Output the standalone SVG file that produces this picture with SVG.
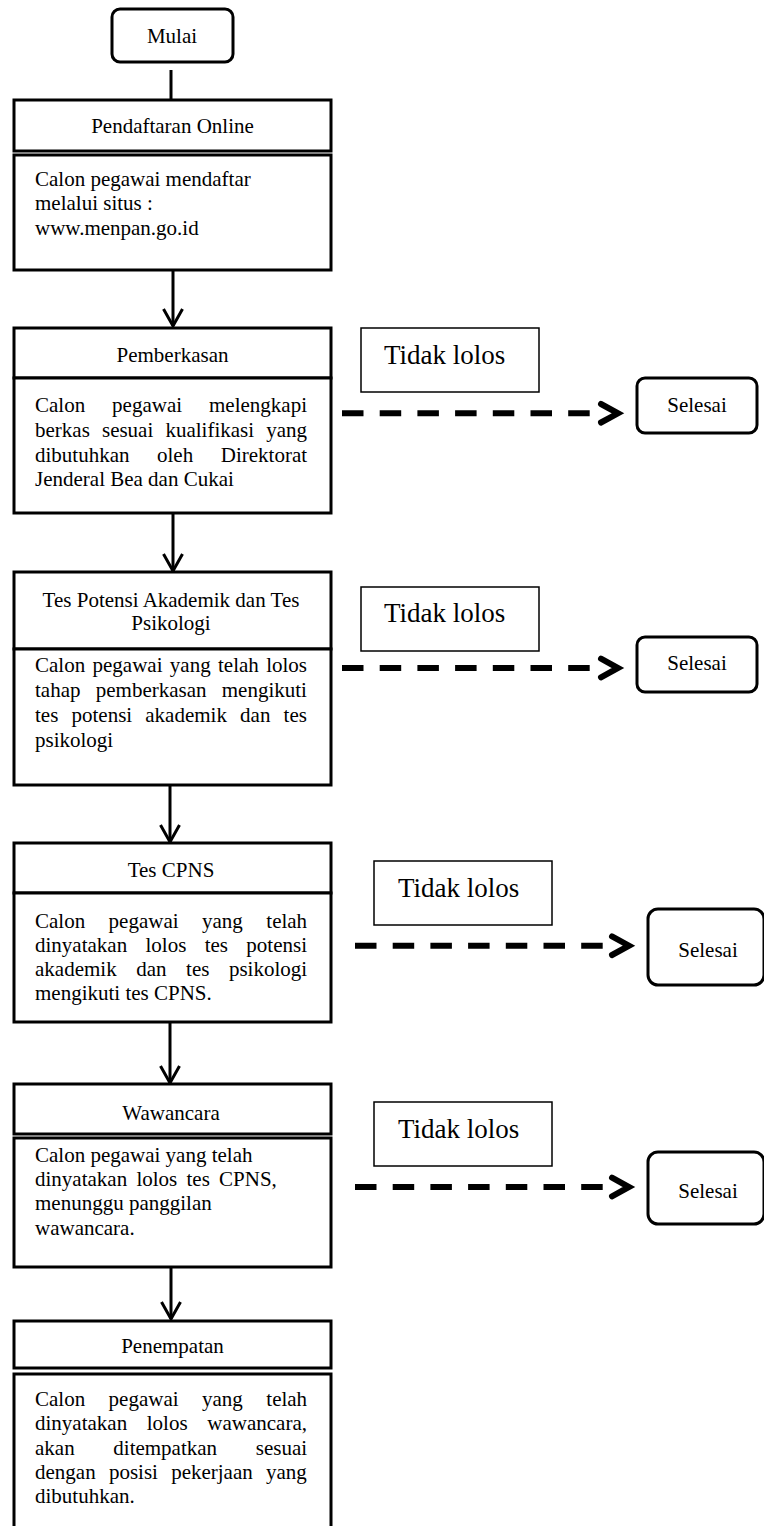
<svg xmlns="http://www.w3.org/2000/svg" width="764" height="1526" viewBox="0 0 764 1526">
<style>
.box{fill:#fff;stroke:#000;stroke-width:3}
.term{fill:#fff;stroke:#000;stroke-width:3}
.tl{fill:#fff;stroke:#000;stroke-width:1.5}
.t{font-family:"Liberation Serif","Times New Roman",serif;font-size:21px;fill:#000}
.c{text-anchor:middle}
.big{font-family:"Liberation Serif","Times New Roman",serif;font-size:27px;fill:#000}
.ln{stroke:#000;stroke-width:3;fill:none}
.hd{stroke:#000;stroke-width:3;fill:none;stroke-linejoin:miter}
.dash{stroke:#000;stroke-width:6;stroke-dasharray:21.5 16.2;fill:none}
.chev{stroke:#000;stroke-width:6;fill:none;stroke-linecap:round;stroke-linejoin:miter}
</style>
<rect width="764" height="1526" fill="#fff"/>

<g id="connectors">
  <line class="ln" x1="171" y1="70" x2="171" y2="100"/>
  <line class="ln" x1="173" y1="270" x2="173" y2="326"/>
  <polyline class="hd" points="163.5,309 173,326 182.5,309"/>
  <line class="ln" x1="173" y1="513" x2="173" y2="571"/>
  <polyline class="hd" points="163.5,554 173,571 182.5,554"/>
  <line class="ln" x1="170" y1="785" x2="170" y2="842"/>
  <polyline class="hd" points="160.5,825 170,842 179.5,825"/>
  <line class="ln" x1="170" y1="1022" x2="170" y2="1083"/>
  <polyline class="hd" points="160.5,1066 170,1083 179.5,1066"/>
  <line class="ln" x1="171" y1="1267" x2="171" y2="1319"/>
  <polyline class="hd" points="161.5,1302 171,1319 180.5,1302"/>

  <line class="dash" x1="342" y1="413.3" x2="590" y2="413.3"/>
  <polyline class="chev" points="601,404 618,413.3 601,422.5"/>
  <line class="dash" x1="342" y1="668" x2="590" y2="668"/>
  <polyline class="chev" points="601,658.7 618,668 601,677.3"/>
  <line class="dash" x1="355" y1="945.7" x2="603" y2="945.7"/>
  <polyline class="chev" points="612,936.4 629,945.7 612,955"/>
  <line class="dash" x1="355" y1="1187" x2="603" y2="1187"/>
  <polyline class="chev" points="612,1177.7 629,1187 612,1196.3"/>
</g>

<g id="mulai">
  <rect class="term" x="112" y="9" width="121" height="53" rx="8"/>
  <text class="t c" x="172" y="43">Mulai</text>
</g>

<g id="pendaftaran">
  <rect class="box" x="14" y="100" width="317" height="51"/>
  <rect class="box" x="14" y="155" width="317" height="115"/>
  <text class="t c" x="172.5" y="133">Pendaftaran Online</text>
  <text class="t" x="35" y="186">Calon pegawai mendaftar</text>
  <text class="t" x="35" y="210">melalui situs :</text>
  <text class="t" x="35" y="235">www.menpan.go.id</text>
</g>

<g id="pemberkasan">
  <rect class="box" x="14" y="328" width="317" height="50"/>
  <rect class="box" x="14" y="378" width="317" height="135"/>
  <text class="t c" x="172.5" y="362">Pemberkasan</text>
  <text class="t" x="35" y="412" word-spacing="21.7">Calon pegawai melengkapi</text>
  <text class="t" x="35" y="437" word-spacing="6.9">berkas sesuai kualifikasi yang</text>
  <text class="t" x="35" y="462" word-spacing="22.3">dibutuhkan oleh Direktorat</text>
  <text class="t" x="35" y="486">Jenderal Bea dan Cukai</text>
</g>

<g id="tidak-lolos-1">
  <rect class="tl" x="361" y="328" width="178" height="64"/>
  <text class="big" x="384" y="364">Tidak lolos</text>
</g>
<g id="selesai-1">
  <rect class="term" x="637" y="378" width="120" height="55" rx="8"/>
  <text class="t c" x="697" y="412">Selesai</text>
</g>

<g id="tes-potensi">
  <rect class="box" x="14" y="572" width="317" height="77"/>
  <rect class="box" x="14" y="649" width="317" height="136"/>
  <text class="t c" x="171" y="607">Tes Potensi Akademik dan Tes</text>
  <text class="t c" x="171" y="630">Psikologi</text>
  <text class="t" x="35" y="672" word-spacing="2.1">Calon pegawai yang telah lolos</text>
  <text class="t" x="35" y="697" word-spacing="10">tahap pemberkasan mengikuti</text>
  <text class="t" x="35" y="722" word-spacing="7.9">tes potensi akademik dan tes</text>
  <text class="t" x="35" y="747">psikologi</text>
</g>

<g id="tidak-lolos-2">
  <rect class="tl" x="361" y="587" width="178" height="64"/>
  <text class="big" x="384" y="622">Tidak lolos</text>
</g>
<g id="selesai-2">
  <rect class="term" x="637" y="637" width="120" height="55" rx="8"/>
  <text class="t c" x="697" y="670">Selesai</text>
</g>

<g id="tes-cpns">
  <rect class="box" x="14" y="843" width="317" height="50"/>
  <rect class="box" x="14" y="893" width="317" height="129"/>
  <text class="t c" x="171" y="877">Tes CPNS</text>
  <text class="t" x="35" y="928" word-spacing="18.2">Calon pegawai yang telah</text>
  <text class="t" x="35" y="952" word-spacing="13.1">dinyatakan lolos tes potensi</text>
  <text class="t" x="35" y="976" word-spacing="14.3">akademik dan tes psikologi</text>
  <text class="t" x="35" y="1000">mengikuti tes CPNS.</text>
</g>

<g id="tidak-lolos-3">
  <rect class="tl" x="374" y="861" width="178" height="64"/>
  <text class="big" x="398" y="897">Tidak lolos</text>
</g>
<g id="selesai-3">
  <rect class="term" x="648" y="909" width="116" height="76" rx="10"/>
  <text class="t c" x="708" y="957">Selesai</text>
</g>

<g id="wawancara">
  <rect class="box" x="14" y="1084" width="317" height="50"/>
  <rect class="box" x="14" y="1138" width="317" height="129"/>
  <text class="t c" x="171" y="1120">Wawancara</text>
  <text class="t" x="35" y="1162">Calon pegawai yang telah</text>
  <text class="t" x="35" y="1186" word-spacing="4">dinyatakan lolos tes CPNS,</text>
  <text class="t" x="35" y="1210">menunggu panggilan</text>
  <text class="t" x="35" y="1235">wawancara.</text>
</g>

<g id="tidak-lolos-4">
  <rect class="tl" x="374" y="1102" width="178" height="64"/>
  <text class="big" x="398" y="1138">Tidak lolos</text>
</g>
<g id="selesai-4">
  <rect class="term" x="648" y="1152" width="116" height="72" rx="10"/>
  <text class="t c" x="708" y="1198">Selesai</text>
</g>

<g id="penempatan">
  <rect class="box" x="14" y="1321" width="317" height="47"/>
  <rect class="box" x="14" y="1374" width="317" height="170"/>
  <text class="t c" x="172.5" y="1353">Penempatan</text>
  <text class="t" x="35" y="1406" word-spacing="18.2">Calon pegawai yang telah</text>
  <text class="t" x="35" y="1430" word-spacing="14.4">dinyatakan lolos wawancara,</text>
  <text class="t" x="35" y="1455" word-spacing="33.4">akan ditempatkan sesuai</text>
  <text class="t" x="35" y="1479" word-spacing="8">dengan posisi pekerjaan yang</text>
  <text class="t" x="35" y="1503">dibutuhkan.</text>
</g>
</svg>
